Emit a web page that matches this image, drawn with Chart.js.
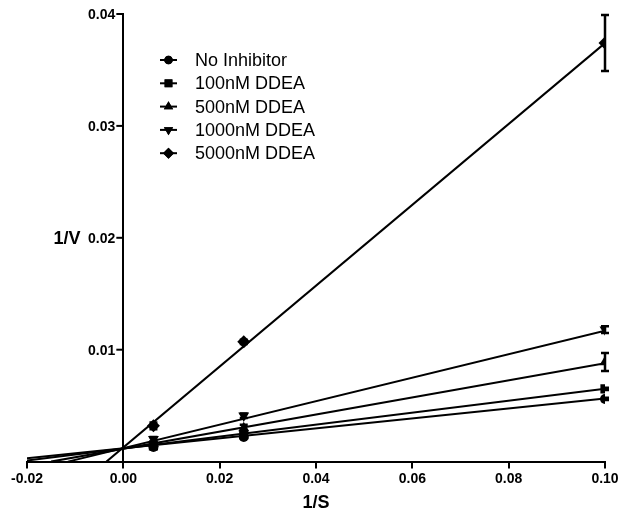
<!DOCTYPE html>
<html>
<head>
<meta charset="utf-8">
<script src="https://cdn.jsdelivr.net/npm/chart.js@4"></script>
<style>
body { margin: 0; background: #fff; }
#wrap { width: 621px; height: 518px; }
</style>
</head>
<body>
<div id="wrap"><canvas id="myChart"></canvas></div>
<script>
// series names, in legend order
const seriesNames = ["No Inhibitor", "100nM DDEA", "500nM DDEA", "1000nM DDEA", "5000nM DDEA"];

// 1/S values where the points sit
const invS = [0.00625, 0.025, 0.1];

// 1/V means
const noInhibitor = [0.0013, 0.0022, 0.0056];
const ddea100 = [0.0014, 0.0024, 0.0065];
const ddea500 = [0.0016, 0.0030, 0.0089];
const ddea1000 = [0.0020, 0.0041, 0.0118];
const ddea5000 = [0.0032, 0.0107, 0.0374];

// error bar half-heights
const errNoInhibitor = [0.0001, 0.0001, 0.0001];
const err100 = [0.0001, 0.0001, 0.0001];
const err500 = [0.0002, 0.0003, 0.0008];
const err1000 = [0.0002, 0.0002, 0.0003];
const err5000 = [0.0003, 0.0002, 0.0025];

// fitted lines: where each starts (1/S, 1/V) and its 1/V at 1/S = 0.10
const fitStartX = [-0.02, -0.02, -0.0150, -0.0115, -0.0035];
const fitStartY = [0.0003, 0.0001, 0, 0, 0];
const fitEndY = [0.00563, 0.00652, 0.0088, 0.0117, 0.0374];

const xTicks = [-0.02, 0.00, 0.02, 0.04, 0.06, 0.08, 0.10];
const yTicks = [0.01, 0.02, 0.03, 0.04];

const means = [noInhibitor, ddea100, ddea500, ddea1000, ddea5000];
const errs = [errNoInhibitor, err100, err500, err1000, err5000];
const styles = ['circle', 'rect', 'triangle', 'triangle', 'rectRot'];
const rotations = [0, 0, 0, 180, 0];
const radii = [5, 6.5, 6.3, 6.3, 6.5];

const FONT = "'Liberation Sans', Arial, Helvetica, sans-serif";

const datasets = [];
for (let i = 0; i < seriesNames.length; i++) {
  datasets.push({
    label: seriesNames[i] + " fit",
    data: [{x: fitStartX[i], y: fitStartY[i]}, {x: 0.1, y: fitEndY[i]}],
    showLine: true,
    borderColor: '#000',
    borderWidth: 2,
    pointRadius: 0,
    order: 2
  });
}
for (let i = 0; i < seriesNames.length; i++) {
  datasets.push({
    label: seriesNames[i],
    data: invS.map((x, j) => ({x: x, y: means[i][j]})),
    showLine: false,
    pointStyle: styles[i],
    rotation: rotations[i],
    pointRadius: radii[i],
    backgroundColor: '#000',
    borderColor: '#000',
    borderWidth: 0,
    errs: errs[i],
    order: 1
  });
}

const errorBars = {
  id: 'errorBars',
  afterDatasetsDraw(chart) {
    const ctx = chart.ctx;
    const xs = chart.scales.x, ys = chart.scales.y;
    ctx.save();
    ctx.strokeStyle = '#000';
    ctx.lineWidth = 2.5;
    chart.data.datasets.forEach(ds => {
      if (!ds.errs) return;
      ds.data.forEach((p, j) => {
        const e = ds.errs[j];
        const px = xs.getPixelForValue(p.x);
        const top = ys.getPixelForValue(p.y + e);
        const bot = ys.getPixelForValue(p.y - e);
        ctx.beginPath();
        ctx.moveTo(px, top); ctx.lineTo(px, bot);
        ctx.moveTo(px - 4, top); ctx.lineTo(px + 4, top);
        ctx.moveTo(px - 4, bot); ctx.lineTo(px + 4, bot);
        ctx.stroke();
      });
    });
    ctx.restore();
  }
};

const extras = {
  id: 'extras',
  afterDraw(chart) {
    const ctx = chart.ctx;
    const area = chart.chartArea;
    const ys = chart.scales.y;
    const axisX = chart.scales.x.getPixelForValue(0);
    ctx.save();
    ctx.fillStyle = '#000';
    ctx.strokeStyle = '#000';
    // y ticks and labels, to the left of the axis at x = 0
    ctx.lineWidth = 2;
    ctx.font = "bold 14px " + FONT;
    ctx.textAlign = 'right';
    ctx.textBaseline = 'middle';
    yTicks.forEach(v => {
      const py = ys.getPixelForValue(v);
      ctx.beginPath();
      ctx.moveTo(axisX - 7, py); ctx.lineTo(axisX, py);
      ctx.stroke();
      ctx.fillText(v.toFixed(2), axisX - 8, py + 1);
    });
    // y axis title, drawn level
    ctx.font = "bold 18px " + FONT;
    ctx.textAlign = 'center';
    ctx.fillText('1/V', area.left + 40, (area.top + area.bottom) / 2 + 1);
    // legend inside plot
    ctx.font = "18px " + FONT;
    ctx.textAlign = 'left';
    for (let i = 0; i < seriesNames.length; i++) {
      const ly = area.top + 46 + i * 23.3;
      const lx = area.left + 133;
      ctx.lineWidth = 2;
      ctx.beginPath();
      ctx.moveTo(lx, ly); ctx.lineTo(lx + 17, ly);
      ctx.stroke();
      Chart.helpers.drawPoint(ctx, {pointStyle: styles[i], rotation: rotations[i], radius: radii[i] * 0.85, borderWidth: 0}, lx + 8.5, ly);
      ctx.fill();
      ctx.fillText(seriesNames[i], lx + 35, ly + 1);
    }
    ctx.restore();
  }
};

const config = {
  type: 'scatter',
  data: { datasets: datasets },
  options: {
    responsive: true,
    maintainAspectRatio: false,
    animation: false,
    layout: { padding: { left: 27, right: 16, top: 14, bottom: 0 } },
    plugins: {
      legend: { display: false },
      tooltip: { enabled: false }
    },
    scales: {
      x: {
        type: 'linear',
        min: -0.02,
        max: 0.1,
        afterBuildTicks: axis => { axis.ticks = xTicks.map(v => ({value: v})); },
        ticks: {
          color: '#000',
          font: { family: FONT, size: 14, weight: 'bold' },
          callback: v => v.toFixed(2),
          maxRotation: 0,
          padding: 2
        },
        grid: { drawOnChartArea: false, drawTicks: true, tickLength: 7, color: '#000', lineWidth: 2 },
        border: { color: '#000', width: 2 },
        title: { display: true, text: '1/S', color: '#000', font: { family: FONT, size: 18, weight: 'bold' }, padding: { top: 3, bottom: 4 } }
      },
      y: {
        type: 'linear',
        position: { x: 0 },
        min: 0,
        max: 0.04,
        afterBuildTicks: axis => { axis.ticks = yTicks.map(v => ({value: v})); },
        ticks: { display: false },
        grid: { drawOnChartArea: false, drawTicks: false },
        border: { color: '#000', width: 2 }
      }
    }
  },
  plugins: [errorBars, extras]
};

const myChart = new Chart(document.getElementById('myChart'), config);
</script>
</body>
</html>
